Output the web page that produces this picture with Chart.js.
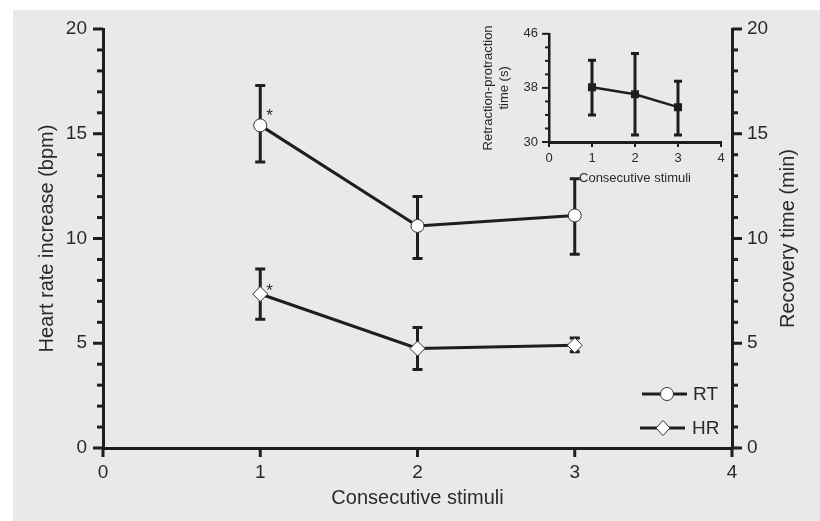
<!DOCTYPE html>
<html>
<head>
<meta charset="utf-8">
<script src="https://cdn.jsdelivr.net/npm/chart.js@4.4.1/dist/chart.umd.min.js"></script>
<style>
  html, body { margin: 0; padding: 0; background: #fff; }
  #wrap { position: relative; width: 820px; height: 521px; }
  #inset { position: absolute; left: 460px; top: 15px; }
</style>
</head>
<body>
<div id="wrap">
  <canvas id="myChart" width="820" height="521"></canvas>
  <canvas id="inset" width="280" height="180"></canvas>
</div>
<script>
// data
const stimuli = [1, 2, 3];
const rtMean = [15.4, 10.6, 11.1];
const rtUpper = [17.3, 12.0, 12.85];
const rtLower = [13.65, 9.05, 9.25];
const hrMean = [7.35, 4.75, 4.9];
const hrUpper = [8.55, 5.75, 5.25];
const hrLower = [6.15, 3.75, 4.6];
const starred = [true, false, false]; // significance marks on stimulus 1

const insetMean = [38.1, 37.05, 35.15];
const insetUpper = [42.1, 43.1, 39.0];
const insetLower = [34.0, 31.05, 31.05];

const xTicks = [0, 1, 2, 3, 4];

const ink = '#1e1e1e';
const textColor = '#2a2a2a';
const fontFamily = '"Liberation Sans", Arial, sans-serif';
Chart.defaults.font.family = fontFamily;
Chart.defaults.color = textColor;

const toPoints = (ys) => stimuli.map((x, i) => ({ x: x, y: ys[i] }));

// gray panel behind the main chart
const panel = {
    id: 'panel',
    beforeDraw(chart) {
        const ctx = chart.ctx;
        ctx.save();
        ctx.fillStyle = '#e8e9eb';
        ctx.fillRect(13, 10, chart.width - 13, chart.height - 10);
        ctx.restore();
    }
};

// error bars from dataset.errUpper / dataset.errLower
const errorBars = {
    id: 'errorBars',
    beforeDatasetsDraw(chart, args, opts) {
        const ctx = chart.ctx;
        chart.data.datasets.forEach((ds, di) => {
            const meta = chart.getDatasetMeta(di);
            const yScale = chart.scales[meta.yAxisID];
            ctx.save();
            ctx.strokeStyle = ink;
            ctx.lineWidth = opts.width;
            meta.data.forEach((pt, i) => {
                const top = yScale.getPixelForValue(ds.errUpper[i]);
                const bot = yScale.getPixelForValue(ds.errLower[i]);
                ctx.beginPath();
                ctx.moveTo(pt.x, top);
                ctx.lineTo(pt.x, bot);
                ctx.moveTo(pt.x - opts.cap, top);
                ctx.lineTo(pt.x + opts.cap, top);
                ctx.moveTo(pt.x - opts.cap, bot);
                ctx.lineTo(pt.x + opts.cap, bot);
                ctx.stroke();
            });
            ctx.restore();
        });
    }
};

// tick marks with major / minor lengths
const tickMarks = {
    id: 'tickMarks',
    afterDraw(chart, args, opts) {
        const ctx = chart.ctx;
        ctx.save();
        ctx.strokeStyle = ink;
        Object.values(chart.scales).forEach(scale => {
            const cfg = opts[scale.id];
            if (!cfg) return;
            ctx.lineWidth = cfg.width;
            scale.ticks.forEach((t, i) => {
                const p = scale.getPixelForTick(i);
                const len = cfg.isMajor(t.value) ? cfg.major : cfg.minor;
                ctx.beginPath();
                if (scale.position === 'left') {
                    ctx.moveTo(scale.right, p); ctx.lineTo(scale.right - len, p);
                } else if (scale.position === 'right') {
                    ctx.moveTo(scale.left, p); ctx.lineTo(scale.left + len, p);
                } else {
                    ctx.moveTo(p, scale.top); ctx.lineTo(p, scale.top + len);
                }
                ctx.stroke();
            });
        });
        ctx.restore();
    }
};

// asterisks, right axis title (reads bottom to top) and legend
const annotations = {
    id: 'annotations',
    afterDatasetsDraw(chart) {
        const ctx = chart.ctx;
        ctx.save();
        ctx.fillStyle = textColor;
        ctx.font = '17px ' + fontFamily;
        ctx.textBaseline = 'middle';
        const offs = [{ dx: 6, dy: -9 }, { dx: 6, dy: -3 }];
        chart.data.datasets.forEach((ds, di) => {
            const meta = chart.getDatasetMeta(di);
            meta.data.forEach((pt, i) => {
                if (starred[i]) ctx.fillText('*', pt.x + offs[di].dx, pt.y + offs[di].dy);
            });
        });

        // right axis title
        const area = chart.chartArea;
        ctx.save();
        ctx.font = '20px ' + fontFamily;
        ctx.textAlign = 'center';
        ctx.translate(788, (area.top + area.bottom) / 2);
        ctx.rotate(-Math.PI / 2);
        ctx.fillText('Recovery time (min)', 0, 0);
        ctx.restore();

        // legend
        const items = [
            { label: 'RT', style: 'circle', x1: 642, x2: 687, mx: 667, y: 394, tx: 693 },
            { label: 'HR', style: 'diamond', x1: 640, x2: 685, mx: 663, y: 428, tx: 692 }
        ];
        ctx.font = '19px ' + fontFamily;
        items.forEach(it => {
            ctx.strokeStyle = ink;
            ctx.lineWidth = 3;
            ctx.beginPath();
            ctx.moveTo(it.x1, it.y); ctx.lineTo(it.x2, it.y);
            ctx.stroke();
            ctx.beginPath();
            if (it.style === 'circle') {
                ctx.arc(it.mx, it.y, 6.5, 0, Math.PI * 2);
            } else {
                ctx.moveTo(it.mx, it.y - 7.5); ctx.lineTo(it.mx + 7, it.y);
                ctx.lineTo(it.mx, it.y + 7.5); ctx.lineTo(it.mx - 7, it.y);
                ctx.closePath();
            }
            ctx.fillStyle = '#fff';
            ctx.fill();
            ctx.lineWidth = 1;
            ctx.strokeStyle = '#333';
            ctx.stroke();
            ctx.fillStyle = textColor;
            ctx.fillText(it.label, it.tx, it.y + 1);
        });
        ctx.restore();
    }
};

const yTickCfg = {
    stepSize: 1,
    autoSkip: false,
    font: { size: 19 },
    color: textColor,
    callback: v => (v % 5 === 0 ? v : '')
};

const config = {
    type: 'line',
    data: {
        datasets: [
            {
                label: 'RT',
                data: toPoints(rtMean),
                errUpper: rtUpper,
                errLower: rtLower,
                yAxisID: 'y2',
                borderColor: ink,
                borderWidth: 3,
                pointStyle: 'circle',
                pointRadius: 6.5,
                pointBackgroundColor: '#fff',
                pointBorderColor: '#333',
                pointBorderWidth: 1
            },
            {
                label: 'HR',
                data: toPoints(hrMean),
                errUpper: hrUpper,
                errLower: hrLower,
                yAxisID: 'y',
                borderColor: ink,
                borderWidth: 3,
                pointStyle: 'rectRot',
                pointRadius: 7.5,
                pointBackgroundColor: '#fff',
                pointBorderColor: '#333',
                pointBorderWidth: 1
            }
        ]
    },
    options: {
        responsive: false,
        animation: false,
        layout: { padding: { top: 29, right: 0, bottom: 0, left: 0 } },
        plugins: {
            legend: { display: false },
            tooltip: { enabled: false },
            errorBars: { width: 3, cap: 5 },
            tickMarks: {
                x: { width: 3, major: 9, minor: 9, isMajor: () => true },
                y: { width: 3, major: 10, minor: 6, isMajor: v => v % 5 === 0 },
                y2: { width: 3, major: 10, minor: 6, isMajor: v => v % 5 === 0 }
            }
        },
        scales: {
            x: {
                type: 'linear',
                min: xTicks[0],
                max: xTicks[xTicks.length - 1],
                ticks: { stepSize: 1, font: { size: 19 }, color: textColor, padding: 13, maxRotation: 0 },
                grid: { drawOnChartArea: false, drawTicks: false },
                border: { color: ink, width: 3 },
                title: { display: true, text: 'Consecutive stimuli', font: { size: 20 }, color: textColor, padding: { top: 0, bottom: 11 } },
                afterFit: s => { s.height = 73; }
            },
            y: {
                position: 'left',
                min: 0,
                max: 20,
                ticks: Object.assign({ padding: 16 }, yTickCfg),
                grid: { drawOnChartArea: false, drawTicks: false },
                border: { color: ink, width: 3 },
                title: { display: true, text: 'Heart rate increase (bpm)', font: { size: 20 }, color: textColor, padding: { top: 35, bottom: 0 } },
                afterFit: s => { s.width = 103; }
            },
            y2: {
                position: 'right',
                min: 0,
                max: 20,
                ticks: Object.assign({ padding: 15 }, yTickCfg),
                grid: { drawOnChartArea: false, drawTicks: false },
                border: { color: ink, width: 3 },
                title: { display: false },
                afterFit: s => { s.width = 88; }
            }
        }
    },
    plugins: [panel, errorBars, tickMarks, annotations]
};

const ctx = document.getElementById('myChart').getContext('2d');
const myChart = new Chart(ctx, config);

// inset: retraction-protraction time
const insetConfig = {
    type: 'line',
    data: {
        datasets: [{
            data: toPoints(insetMean),
            errUpper: insetUpper,
            errLower: insetLower,
            yAxisID: 'y',
            borderColor: ink,
            borderWidth: 2.5,
            pointStyle: 'rect',
            pointRadius: 5.7,
            pointBackgroundColor: ink,
            pointBorderColor: ink,
            pointBorderWidth: 0
        }]
    },
    options: {
        responsive: false,
        animation: false,
        layout: { padding: { top: 15, right: 19, bottom: 0, left: 0 } },
        plugins: {
            legend: { display: false },
            tooltip: { enabled: false },
            errorBars: { width: 3, cap: 4 },
            tickMarks: {
                x: { width: 2, major: 5, minor: 5, isMajor: () => true },
                y: { width: 2, major: 7, minor: 4, isMajor: v => (v - 30) % 8 === 0 }
            }
        },
        scales: {
            x: {
                type: 'linear',
                min: 0,
                max: 4,
                ticks: { stepSize: 1, autoSkip: false, font: { size: 13 }, color: textColor, padding: 9, maxRotation: 0 },
                grid: { drawOnChartArea: false, drawTicks: false },
                border: { color: ink, width: 3 },
                title: { display: true, text: 'Consecutive stimuli', font: { size: 13 }, color: textColor, padding: { top: 0, bottom: 9 } },
                afterFit: s => { s.height = 53; }
            },
            y: {
                position: 'left',
                min: 30,
                max: 46,
                ticks: { stepSize: 2, autoSkip: false, font: { size: 13 }, color: textColor, padding: 11,
                         callback: v => ((v - 30) % 8 === 0 ? v : '') },
                grid: { drawOnChartArea: false, drawTicks: false },
                border: { color: ink, width: 2.5 },
                title: { display: true, text: ['Retraction-protraction', 'time (s)'], font: { size: 13 }, color: textColor, padding: { top: 21, bottom: 0 } },
                afterFit: s => { s.width = 89; }
            }
        }
    },
    plugins: [errorBars, tickMarks]
};

const insetChart = new Chart(document.getElementById('inset').getContext('2d'), insetConfig);
</script>
</body>
</html>
